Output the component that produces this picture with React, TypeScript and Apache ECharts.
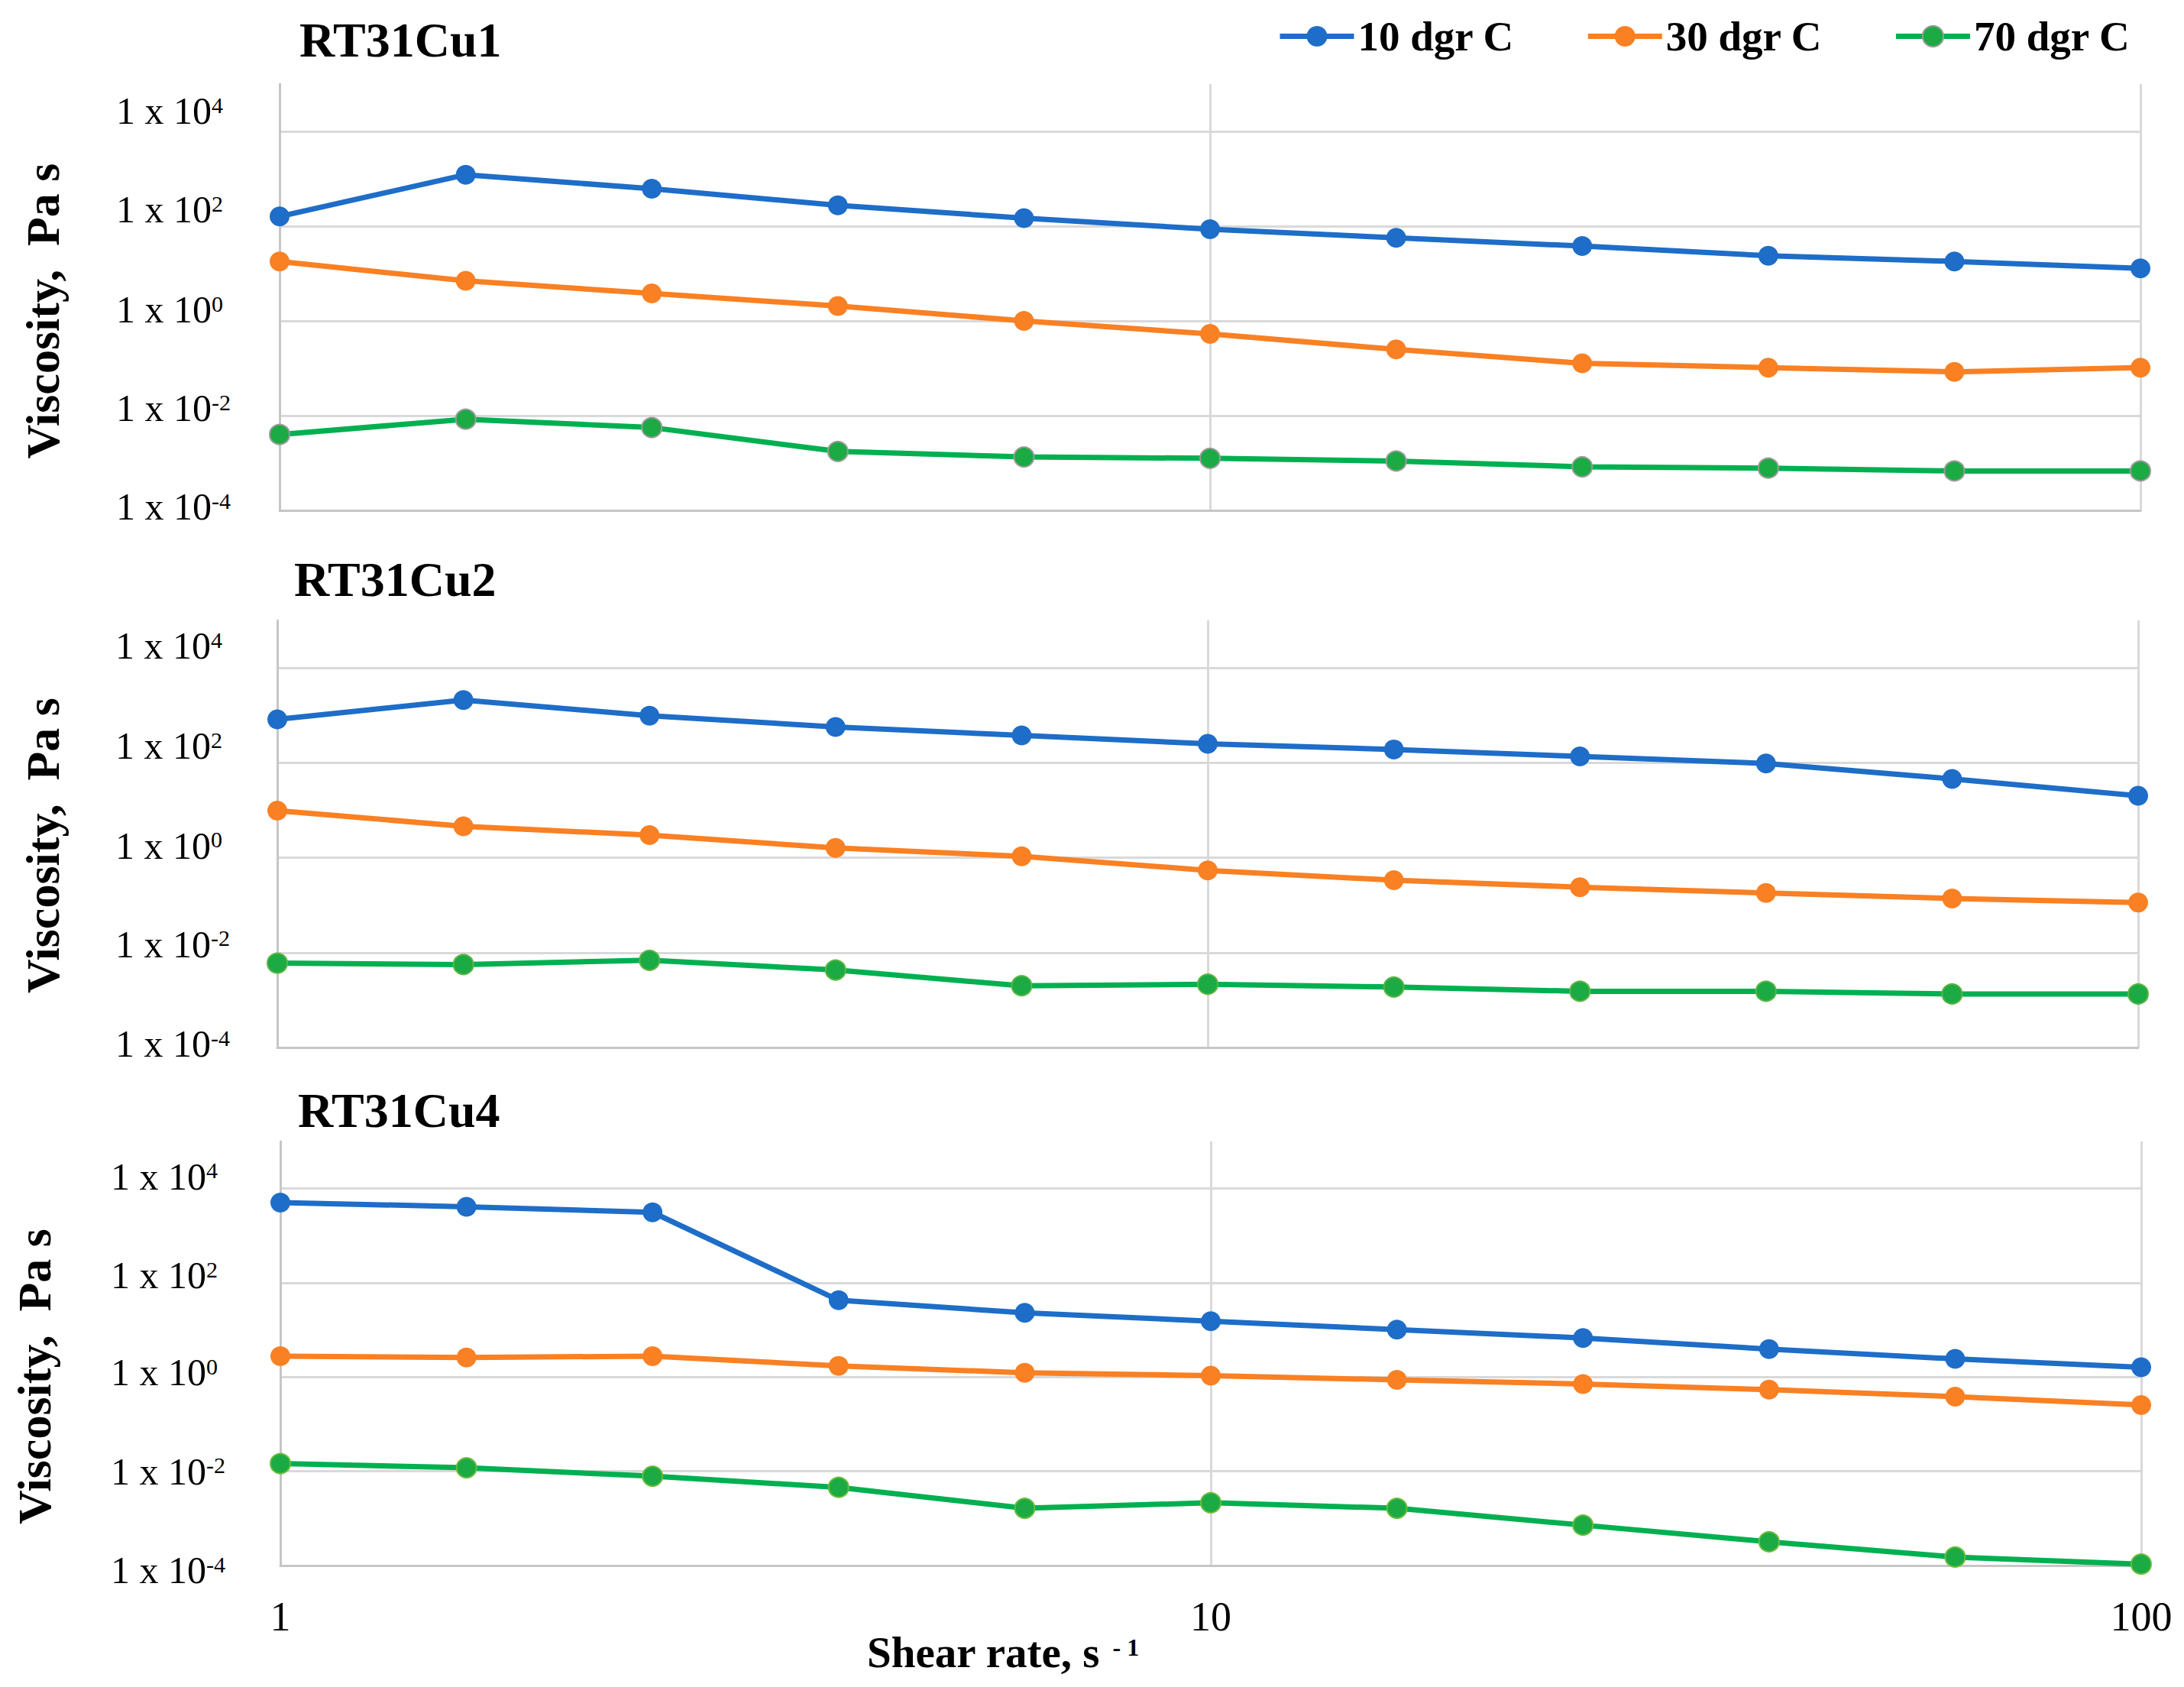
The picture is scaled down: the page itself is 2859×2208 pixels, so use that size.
import React, { useEffect, useRef } from "react";
import * as echarts from "echarts";

// ---------- data ----------
const shearRates = [1, 1.585, 2.512, 3.981, 6.31, 10, 15.85, 25.12, 39.81, 63.1, 100];
const seriesNames = ["10 dgr C", "30 dgr C", "70 dgr C"];
const panelTitles = ["RT31Cu1", "RT31Cu2", "RT31Cu4"];

const cu1_10 = [160, 1220, 617, 274, 148, 86, 57, 38, 23.7, 18, 12.9];
const cu1_30 = [18, 7.0, 3.8, 2.06, 1.0, 0.53, 0.25, 0.127, 0.103, 0.084, 0.103];
const cu1_70 = [0.004, 0.0084, 0.0056, 0.00176, 0.00134, 0.00126, 0.0011, 0.00083, 0.00078, 0.00068, 0.00068];

const cu2_10 = [820, 2100, 984, 570, 378, 251, 191, 136, 96.6, 45.7, 20.1];
const cu2_30 = [9.8, 4.6, 2.98, 1.61, 1.07, 0.54, 0.336, 0.239, 0.18, 0.138, 0.113];
const cu2_70 = [0.006, 0.0056, 0.0069, 0.0043, 0.002, 0.00215, 0.00188, 0.00153, 0.00153, 0.00134, 0.00134];

const cu4_10 = [5055, 4120, 3135, 42.6, 23.1, 15.3, 10.2, 6.76, 3.92, 2.43, 1.61];
const cu4_30 = [2.78, 2.6, 2.78, 1.73, 1.23, 1.07, 0.873, 0.711, 0.541, 0.385, 0.255];
const cu4_70 = [0.01456, 0.01186, 0.00787, 0.00456, 0.00164, 0.00215, 0.00164, 0.00072, 0.000319, 0.000151, 0.000107];

const panelData = [
  [cu1_10, cu1_30, cu1_70],
  [cu2_10, cu2_30, cu2_70],
  [cu4_10, cu4_30, cu4_70],
];

const yTickExponents = [-4, -2, 0, 2, 4];
const yAxisName = "Viscosity,  Pa s";
const xAxisTitle = "Shear rate, s";
const xAxisTitleSup = " - 1";

// ---------- styling / layout ----------
const SERIF = "'Liberation Serif', 'Times New Roman', Times, serif";
const COLORS = ["#1E6DC8", "#F98023", "#00B050"];
const MARKER_FILL = ["#1E6DC8", "#F98023", "#1BAA44"];

const panels = [
  { top: 110, height: 558, left: 366, labelMargin: 214, nameGap: 279, nameShift: 36, labelUp: [5, 10, 15, 22, 27], titleX: 392, titleY: 52, greenBorder: "#9b9b9b" },
  { top: 812, height: 559, left: 363, labelMargin: 212, nameGap: 276, nameShift: 30, labelUp: [5, 11, 16, 22, 29], titleX: 385, titleY: 758, greenBorder: "#5fb545" },
  { top: 1494, height: 555, left: 367, labelMargin: 222, nameGap: 291, nameShift: 60, labelUp: [-6, 0, 6, 10, 16], titleX: 390, titleY: 1453, greenBorder: "#6cbc3c" },
];
const GRID_WIDTH = 2436;

function richFor(ups: number[]) {
  const rich: Record<string, any> = {};
  ups.forEach((d, i) => {
    const pb = d > 0 ? 2 * d : 0;
    const pt = d < 0 ? -2 * d : 0;
    rich["b" + i] = { fontFamily: SERIF, fontSize: 50, color: "#000", padding: [pt, 0, pb, 0] };
    rich["s" + i] = { fontFamily: SERIF, fontSize: 30, color: "#000", padding: [pt, 0, pb + 16, 0] };
  });
  return rich;
}

function buildOption() {
  const grid = panels.map((p) => ({ left: p.left, top: p.top, width: GRID_WIDTH, height: p.height }));

  const xAxis = panels.map((p, pi) => ({
    type: "log",
    logBase: 10,
    gridIndex: pi,
    min: 1,
    max: 100,
    interval: 1,
    axisLine: { show: true, lineStyle: { color: "#c6c6c6", width: 3 } },
    axisTick: { show: false },
    splitLine: { show: true, showMinLine: false, lineStyle: { color: "#d9d9d9", width: 3 } },
    axisLabel: {
      show: pi === 2,
      fontFamily: SERIF,
      fontSize: 54,
      color: "#000",
      margin: 40,
      formatter: (v: number) => String(Math.round(v)),
    },
  }));

  const yAxis = panels.map((p, pi) => ({
    type: "log",
    logBase: 10,
    gridIndex: pi,
    min: 1e-4,
    max: 1e5,
    interval: 2,
    name: yAxisName,
    nameLocation: "middle",
    nameGap: p.nameGap,
    nameTextStyle: {
      fontFamily: SERIF,
      fontWeight: "bold",
      fontSize: 62,
      color: "#000",
      padding: [0, p.nameShift, 0, 0],
    },
    axisLine: { show: true, lineStyle: { color: "#c6c6c6", width: 3 } },
    axisTick: { show: false },
    splitLine: { show: true, showMaxLine: false, lineStyle: { color: "#d9d9d9", width: 3 } },
    axisLabel: {
      show: true,
      align: "left",
      margin: p.labelMargin,
      formatter: (v: number) => {
        const e = Math.round(Math.log10(v));
        const i = yTickExponents.indexOf(e);
        if (i < 0) return "";
        return `{b${i}|1 x 10}{s${i}|${e}}`;
      },
      rich: richFor(p.labelUp),
    },
  }));

  const series: any[] = [];
  panels.forEach((p, pi) => {
    seriesNames.forEach((name, k) => {
      const vals = panelData[pi][k];
      series.push({
        type: "line",
        name,
        xAxisIndex: pi,
        yAxisIndex: pi,
        data: shearRates.map((x, i) => [x, vals[i]]),
        symbol: "circle",
        symbolSize: 26,
        clip: false,
        lineStyle: { color: COLORS[k], width: 7 },
        itemStyle: {
          color: MARKER_FILL[k],
          borderColor: k === 2 ? p.greenBorder : MARKER_FILL[k],
          borderWidth: k === 2 ? 2 : 0,
        },
        z: 3 + k,
      });
    });
  });

  const title = panels.map((p, pi) => ({
    text: panelTitles[pi],
    left: p.titleX,
    top: p.titleY - 32,
    padding: 0,
    textStyle: { fontFamily: SERIF, fontWeight: "bold", fontSize: 64, lineHeight: 64, color: "#000" },
  }));

  return {
    animation: false,
    backgroundColor: "#ffffff",
    title,
    legend: {
      data: seriesNames,
      left: 1667,
      top: 15,
      itemWidth: 97,
      itemHeight: 34,
      itemGap: 93,
      textStyle: { fontFamily: SERIF, fontWeight: "bold", fontSize: 55, color: "#000" },
      lineStyle: { width: 7 },
    },
    grid,
    xAxis,
    yAxis,
    series,
    graphic: [
      {
        type: "text",
        x: 1135,
        y: 2162,
        style: {
          text: `{b|${xAxisTitle}}{s|${xAxisTitleSup}}`,
          align: "left",
          verticalAlign: "middle",
          rich: {
            b: { fontFamily: SERIF, fontWeight: "bold", fontSize: 57, fill: "#000" },
            s: { fontFamily: SERIF, fontWeight: "bold", fontSize: 32, fill: "#000", padding: [0, 0, 12, 8] },
          },
        },
      },
    ],
  };
}

export default function App() {
  const ref = useRef<HTMLDivElement>(null);
  useEffect(() => {
    if (!ref.current) return;
    const chart = echarts.init(ref.current, undefined, { renderer: "svg" });
    chart.setOption(buildOption() as any);
    return () => chart.dispose();
  }, []);
  return (
    <div
      ref={ref}
      style={{ position: "absolute", left: 0, top: 0, width: 2859, height: 2208, background: "#fff" }}
    />
  );
}
